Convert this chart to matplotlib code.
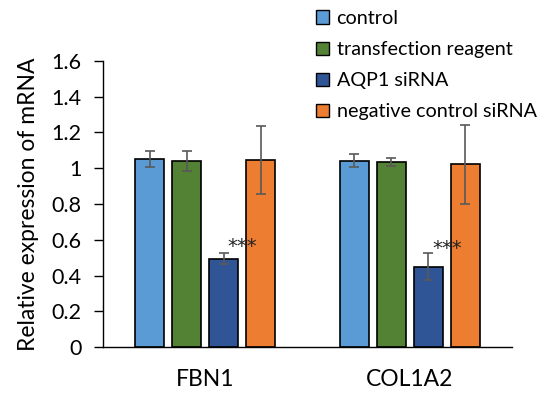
import matplotlib
matplotlib.use("Agg")
import matplotlib.pyplot as plt
import numpy as np
from matplotlib.patches import Patch

plt.rcParams["font.family"] = ["Lato", "DejaVu Sans"]

genes = ["FBN1", "COL1A2"]
groups = ["control", "transfection reagent", "AQP1 siRNA", "negative control siRNA"]
colors = ["#5B9BD5", "#548235", "#2F5597", "#ED7D31"]

# rows: groups, cols: genes
means = [
    [1.05, 1.042],
    [1.042, 1.035],
    [0.494, 0.449],
    [1.046, 1.022],
]
errs = [
    [0.045, 0.035],
    [0.055, 0.02],
    [0.03, 0.075],
    [0.19, 0.22],
]
stars = ["***", "***"]
star_y = [0.53, 0.52]

fig = plt.figure(figsize=(5.5, 3.98), dpi=100)
ax = fig.add_axes([0.187, 0.128, 0.744, 0.719])

x = np.arange(len(genes))
width = 0.142
step = 0.181
for i, g in enumerate(groups):
    pos = x + (i - 1.5) * step
    ax.bar(pos, means[i], width, color=colors[i], edgecolor="black",
           linewidth=1.2, label=g, zorder=2)
    ax.errorbar(pos, means[i], yerr=errs[i], fmt="none", ecolor="#595959",
                elinewidth=1.2, capsize=3.5, capthick=1.2, zorder=3)

for j in range(len(genes)):
    xs = x[j] + 1.0 * step
    ax.text(xs, star_y[j], stars[j], ha="center", va="baseline", fontsize=14,
            color="#222222", family="DejaVu Sans")

ax.set_xlim(-0.5, 1.5)
ax.set_ylim(0, 1.6)
ax.set_yticks(np.arange(0, 1.61, 0.2))
ax.set_yticklabels(["0", "0.2", "0.4", "0.6", "0.8", "1", "1.2", "1.4", "1.6"])
ax.set_xticks(x)
ax.set_xticklabels(genes)
ax.tick_params(axis="y", direction="out", length=6.5, width=1, labelsize=15.5, pad=9)
ax.tick_params(axis="x", length=0, labelsize=16.5, pad=16)
ax.spines["top"].set_visible(False)
ax.spines["right"].set_visible(False)
ax.spines["left"].set_linewidth(1)
ax.spines["bottom"].set_linewidth(1)
ax.set_ylabel("Relative expression of mRNA", fontsize=16.5, labelpad=9)

handles = [Patch(facecolor=c, edgecolor="black", linewidth=1) for c in colors]
fig.legend(handles, groups, loc="upper left", bbox_to_anchor=(0.56, 0.995),
           frameon=False, fontsize=14.2, handlelength=0.65, handleheight=0.65,
           handletextpad=0.4, labelspacing=0.72, borderaxespad=0)

fig.savefig("out.png", dpi=100)
